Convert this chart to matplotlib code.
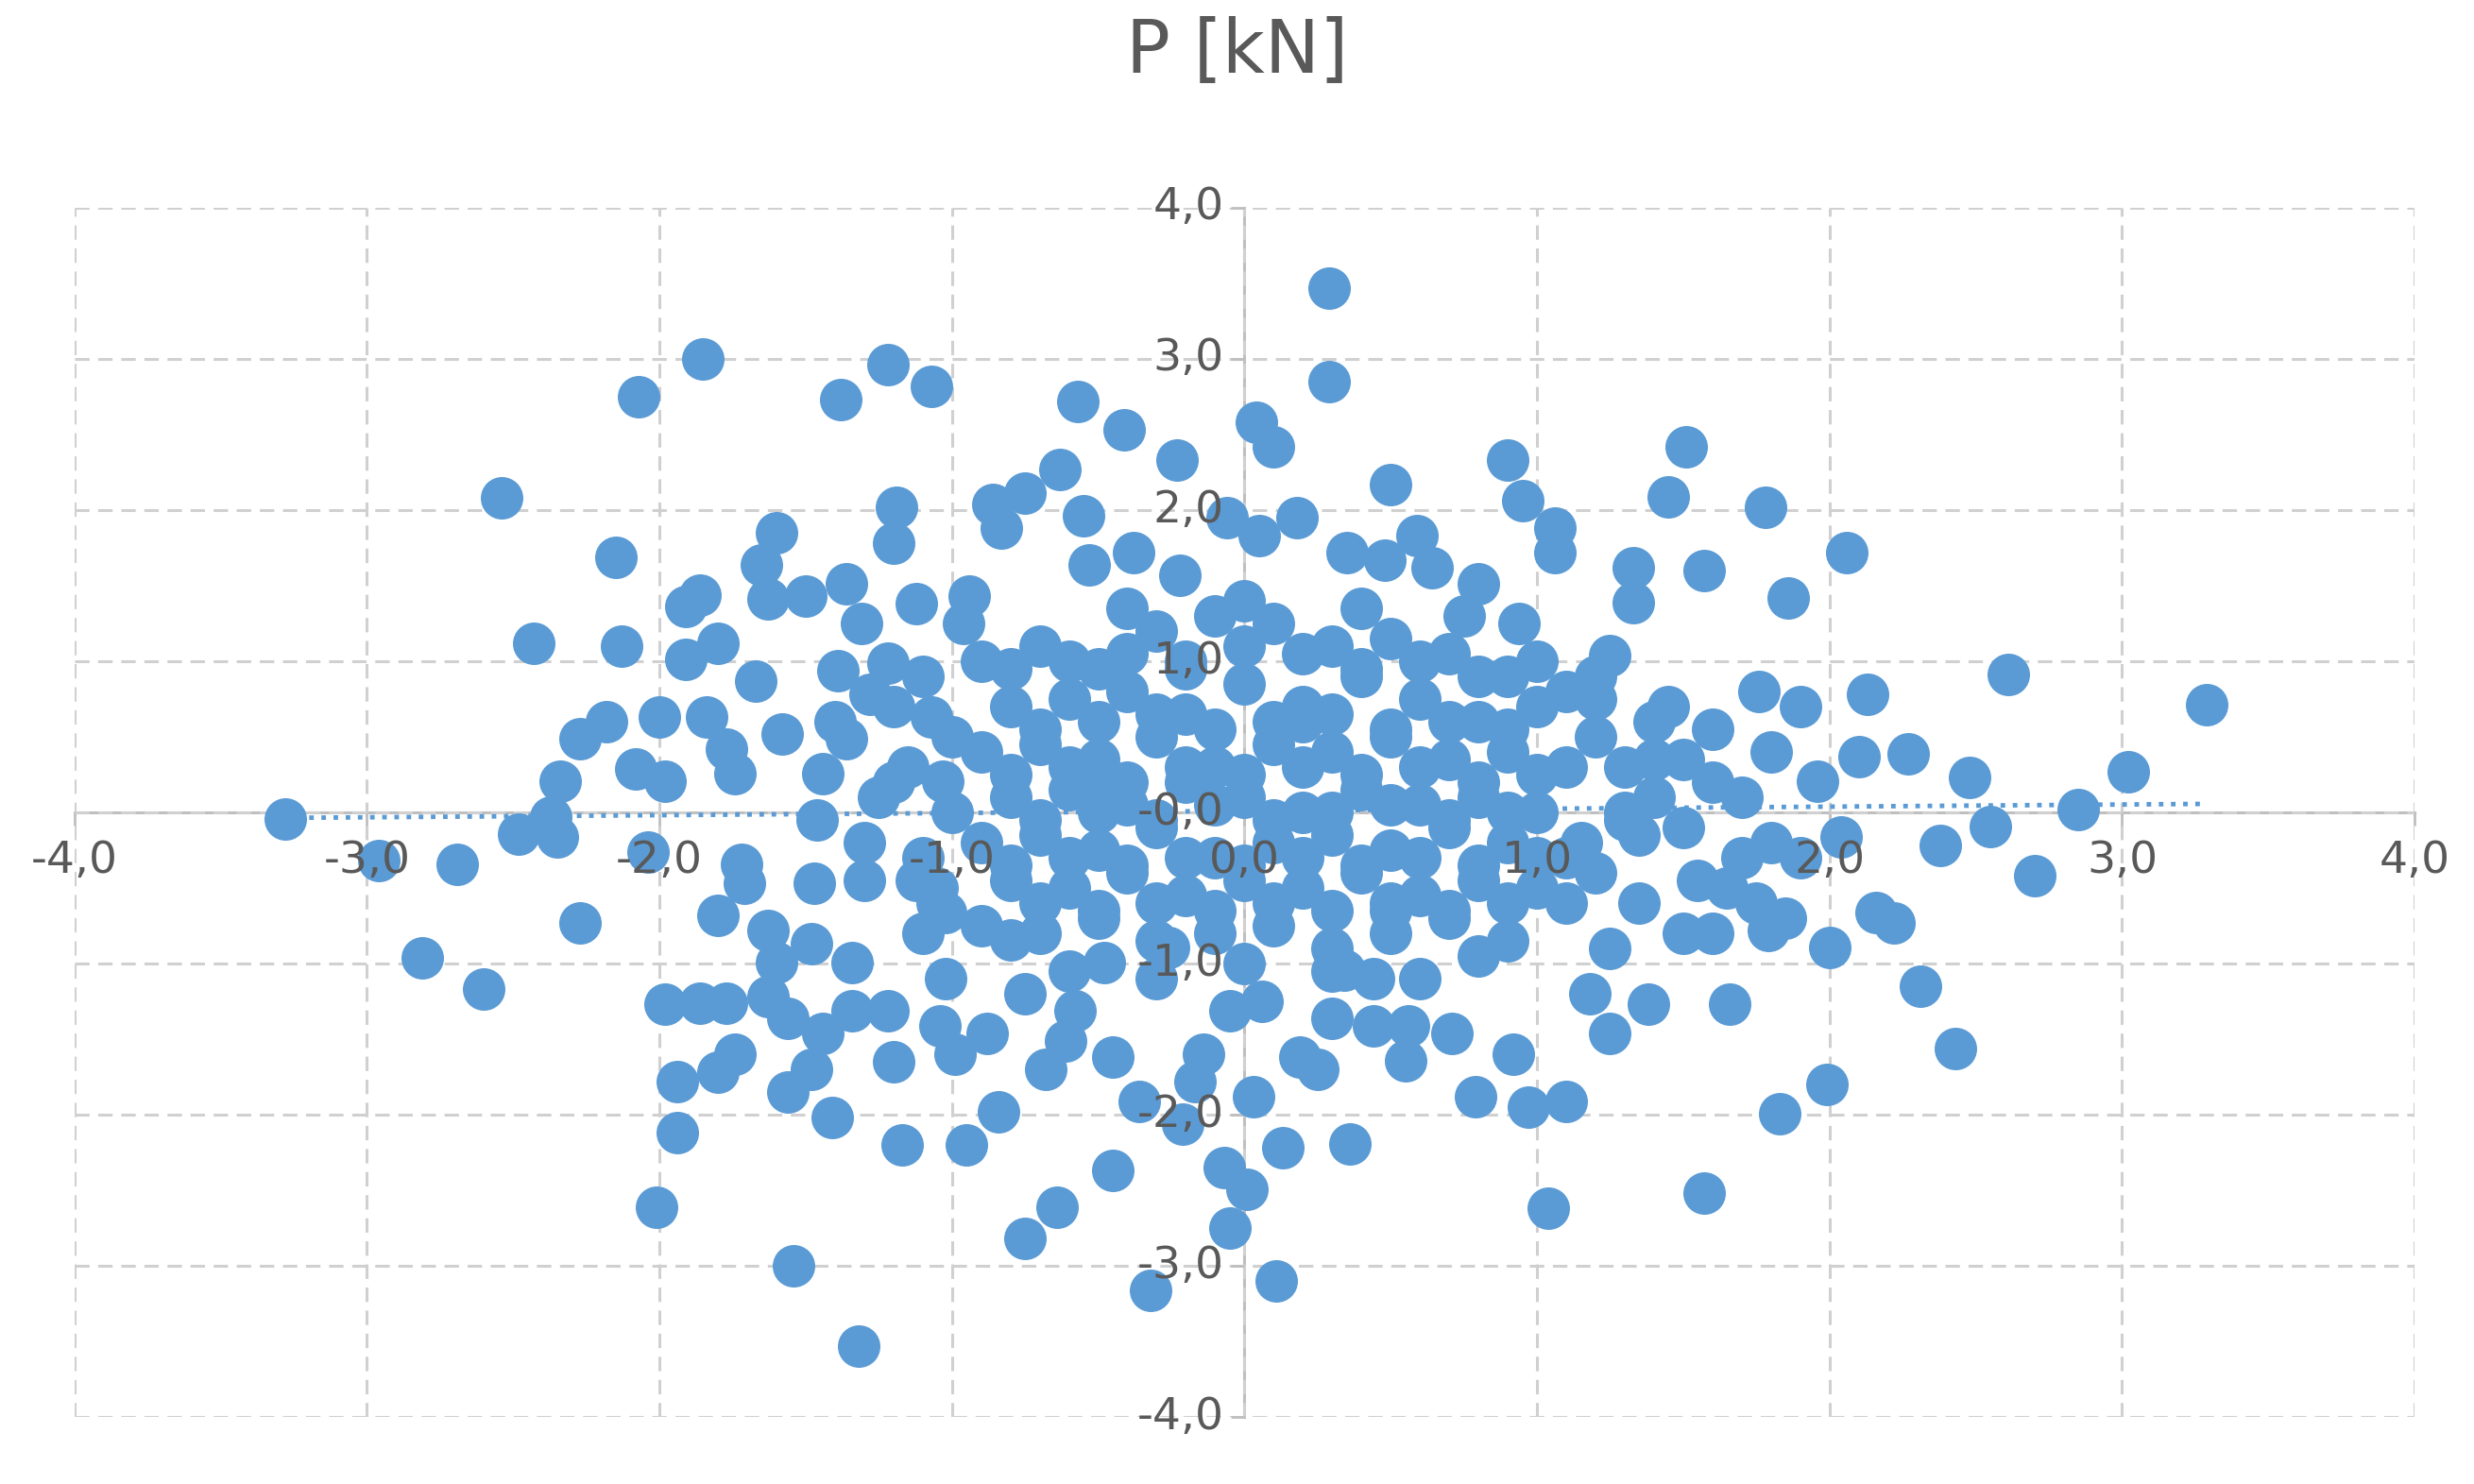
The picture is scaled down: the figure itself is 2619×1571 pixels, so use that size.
import matplotlib
matplotlib.use('AGG')
import matplotlib.pyplot as plt
import numpy as np

TITLE = "P [kN]"
TICKS = [-4, -3, -2, -1, 0, 1, 2, 3, 4]

# points (outer and mid-density parts)
x_outer = [-3.28, -2.96, -2.69, -2.81, -2.60, -2.54, -2.43, -2.27, -2.07, -2.15, -2.13, -2.04, -2.01,
           -1.94, -1.94, -1.85, -1.98, -1.54, -1.32, -1.38, -1.22, -1.07, -0.57, -0.41, 0.29, 0.29,
           0.04, 0.10, 0.90, 0.50, 0.95, 1.51, 1.45, 1.78, 2.06, 1.57, 1.86, 2.61, 3.29, 3.02, 2.85,
           2.70, 2.55, 2.48, 2.38, 2.31, 2.43, 1.99, 1.83, 2.00, 1.57, 1.04, 1.10, 0.97, 0.11, -0.32,
           -0.05, 0.01, -0.07, -0.75, -0.64, -0.45, -0.84, -0.95, -1.17, -1.41, -1.56, 0.36, 0.13,
           0.79, 1.66, 1.38, 2.16, 2.22, 2.13, 2.27, 2.10, 1.96, 1.90, 1.76, 2.04, 1.79, 1.33, 1.33,
           1.06, 1.06, 0.80, 0.94, 1.25, 0.56, 0.55, 0.71, 0.92, 1.25, 1.18]
y_outer = [-0.04, -0.32, -0.34, -0.96, -1.17, 2.08, 1.12, -0.73, 2.75, 1.69, 1.10, -0.26, -2.61,
           -1.78, -2.12, 3.00, -1.27, -3.00, -3.53, 2.73, 2.96, 2.82, 2.72, 2.53, 3.47, 2.85,
           2.58, 2.42, 2.33, 2.17, 2.06, 2.42, 2.09, 2.02, 1.72, 1.60, 1.42, 0.91, 0.71, 0.27, 0.02,
           -0.42, -0.09, 0.23, -0.22, -1.15, -1.56, -1.80, -1.99, -0.89, -2.52, -2.62, -1.91, -1.95,
           -3.10, -3.16, -2.75, -2.49, -2.35, -2.82, -2.61, -2.37, -1.98, -2.20, -2.20, -2.02, -1.85,
           -2.19, -2.22, -1.88, -1.27, -1.27, -0.66, -0.73, 0.78, 0.39, 0.37, 0.21, 0.70, 0.80, -0.16,
           -0.78, 1.62, 1.39, 1.88, 1.72, 1.51, 1.25, 1.04, -1.41, -1.64, -1.46, -1.60, -1.46, -1.20]

x_mid = [-2.35, -2.48, -2.37, -2.34, -2.27, -2.18, -2.08, -2.00, -1.98, -1.91, -1.86, -1.91, -1.80,
         -1.84, -1.77, -1.74, -1.67, -1.65, -1.60, -1.63, -1.50, -1.58, -1.80, -1.72, -1.71, -1.63,
         -1.60, -1.63, -1.77, -1.86, -1.74, -1.80, -1.56, -1.48, -1.44, -1.34, -1.22, -1.20, -1.34,
         -1.48, -1.47, -1.46, -1.44, -1.36, -1.36, -1.31, -1.20, -1.19, -1.12, -1.22, -1.39, -1.28,
         -1.07, -1.03, -0.94, -0.96, -0.86, -0.75, -0.83, -0.63, -0.55, -0.53, -0.38, -0.23, -0.22,
         -0.06, 0.18, 0.05, 0.35, 0.48, 0.59, 0.64, 0.75, -1.02, -1.12, -1.02, -1.04, -0.99, -0.88,
         -0.68, -0.61, -0.45, -0.36, -0.21, -0.17, -0.14, 0.03, -0.05, 0.06, 0.19, 0.25, 0.30, 0.44,
         0.44, 0.34, -0.26, -0.48, -0.58, -0.75, -0.80]
y_mid = [-0.16, -0.14, -0.03, 0.21, 0.49, 0.60, 0.29, 0.63, 0.21, 1.36, 1.44, 1.01, 1.12,
         0.63, 0.42, 0.26, 0.87, 1.64, 1.85, 1.41, 1.43, 0.52, -0.68, -0.34, -0.47, -0.78,
         -0.99, -1.22, -1.26, -1.26, -1.60, -1.72, -1.36, -1.70, -1.46, -1.31, -1.31, -1.65, -0.99,
         -0.87, -0.47, -0.05, 0.26, 0.49, 1.51, 1.25, 1.78, 2.02, 1.38, 0.99, 0.94, 0.78,
         0.63, 0.21, 1.43, 1.25, 2.04, 2.11, 1.88, 2.27, 1.96, 1.64, 1.72, 2.33, 1.57,
         1.95, 1.95, 1.83, 1.72, 1.67, 1.83, 1.62, 1.30, -0.66, -0.45, -1.10, -1.41, -1.60, -1.46,
         -1.70, -1.51, -1.62, -1.91, -2.06, -1.78, -1.60, -1.88, -1.31, -1.25, -1.62, -1.70, -1.36, -1.41,
         -1.10, -1.04, -0.89, -0.99, -1.31, -1.20, -0.84]

# dense centre and right-hand cluster
x_core = [-0.9, -0.7, -0.5, -0.3, -0.1, 0.1, 0.3, 0.5, 0.7, 0.9, 1.1,
          -0.8, -0.6, -0.4, -0.2, 0.0, 0.2, 0.4, 0.6, 0.8, 1.0,
          -0.9, -0.7, -0.5, -0.3, -0.1, 0.1, 0.3, 0.5, 0.7, 0.9, 1.1,
          -0.8, -0.6, -0.4, -0.2, 0.0, 0.2, 0.4, 0.6, 0.8, 1.0,
          -0.9, -0.7, -0.5, -0.3, -0.1, 0.1, 0.3, 0.5, 0.7, 0.9, 1.1,
          -0.8, -0.6, -0.4, -0.2, 0.0, 0.2, 0.4, 0.6, 0.8, 1.0,
          -0.9, -0.7, -0.5, -0.3, -0.1, 0.1, 0.3, 0.5, 0.7, 0.9,
          -0.6, -0.3, 0.0, 0.3, 0.6, -0.2, 0.2, 0.5, -0.5, 0.8,
          1.2, 1.3, 1.4, 1.5, 1.6, 1.7, 1.8, 1.2, 1.35, 1.5, 1.65, 1.8, 1.25, 1.45, 1.6, 1.75, 1.9,
          1.3, 1.5, 1.7, 1.2, 1.4, 1.6, 1.85, 1.15, 1.35, 1.55,
          -1.2, -1.0, -1.1, -1.3, -1.0, -1.15, -1.25, -1.05, -1.4, -1.1]
y_core = [1.0, 1.1, 0.95, 1.2, 1.3, 1.25, 1.1, 1.15, 1.05, 0.9, 0.8,
          0.7, 0.75, 0.8, 0.65, 0.85, 0.7, 0.9, 0.75, 0.6, 0.7,
          0.4, 0.45, 0.35, 0.5, 0.3, 0.45, 0.4, 0.5, 0.35, 0.4, 0.3,
          0.1, 0.15, 0.05, 0.2, 0.1, 0.0, 0.15, 0.05, 0.1, 0.0,
          -0.2, -0.15, -0.25, -0.1, -0.3, -0.2, -0.15, -0.25, -0.1, -0.2, -0.3,
          -0.45, -0.5, -0.4, -0.55, -0.45, -0.5, -0.4, -0.55, -0.45, -0.5,
          -0.75, -0.8, -0.7, -0.85, -0.8, -0.75, -0.9, -0.8, -0.7, -0.85,
          -1.05, -1.1, -1.0, -1.05, -1.1, 0.95, 0.6, -0.65, 0.2, -0.95,
          0.5, 0.3, 0.1, -0.1, 0.55, -0.3, -0.2, -0.4, -0.6, -0.8, -0.5, 0.4, -0.9, 0.7, 0.2, -0.6, -0.3,
          0.0, 0.35, 0.1, 0.9, 0.6, -0.8, -0.7, -0.2, -0.15, -0.45,
          0.2, 0.0, -0.3, -0.2, 0.5, 0.3, 0.1, -0.5, 0.6, 0.9]

# extra fill for the solid blob in the middle
x_fill = [-0.8, -0.6, -0.4, -0.2, 0.0, 0.2, 0.4, 0.6, 0.8, 1.0,
          -0.7, -0.5, -0.3, -0.1, 0.1, 0.3, 0.5, 0.7, 0.9,
          -0.8, -0.6, -0.4, -0.2, 0.0, 0.2, 0.4, 0.6, 0.8, 1.0,
          -0.7, -0.5, -0.3, -0.1, 0.1, 0.3, 0.5, 0.7, 0.9,
          -0.8, -0.6, -0.4, -0.2, 0.0, 0.2, 0.4, 0.6, 0.8, 1.0,
          -0.7, -0.5, -0.3, -0.1, 0.1, 0.3, 0.5, 0.7, 0.9,
          -0.4, 0.0, 0.4, -1.1, -1.2, 1.2, 1.3, 1.1, 1.4, -1.05, -1.3]
y_fill = [0.95, 1.0, 1.05, 1.0, 1.1, 1.05, 0.95, 1.0, 0.9, 1.0,
          0.55, 0.6, 0.65, 0.55, 0.6, 0.65, 0.55, 0.6, 0.55,
          0.25, 0.3, 0.2, 0.3, 0.25, 0.3, 0.25, 0.3, 0.2, 0.25,
          -0.05, 0.0, -0.05, 0.05, -0.05, 0.0, 0.05, -0.05, 0.0,
          -0.35, -0.3, -0.35, -0.3, -0.35, -0.3, -0.35, -0.3, -0.35, -0.3,
          -0.6, -0.65, -0.6, -0.65, -0.6, -0.65, -0.6, -0.65, -0.6,
          1.35, 1.4, 1.35, -0.8, 0.7, 0.75, -0.05, -0.6, 0.35, -0.6, -0.45]

x = np.array(x_outer + x_mid + x_core + x_fill)
y = np.array(y_outer + y_mid + y_core + y_fill)

blue = '#5B9BD5'
grey = '#595959'

fig = plt.figure(figsize=(26.19, 15.71), dpi=100)
ax = fig.add_axes([0.030, 0.045, 0.946, 0.815])
ax.set_xlim(-4, 4)
ax.set_ylim(-4, 4)

ax.scatter(x, y, s=1050, color=blue, zorder=3, linewidths=0)

# linear trendline (dotted)
k, b = np.polyfit(x, y, 1)
xs = np.array([x.min(), x.max()])
ax.plot(xs, k * xs + b, ':', color=blue, lw=3.5, zorder=2)

ax.set_xticks(TICKS)
ax.set_yticks(TICKS)
ax.grid(True, color='#D0D0D0', linestyle=(0, (5, 3)), lw=2.2, zorder=0)
for s in ['top', 'right']:
    ax.spines[s].set_visible(False)
ax.spines['left'].set_position('zero')
ax.spines['bottom'].set_position('zero')
for s in ['left', 'bottom']:
    ax.spines[s].set_color('#BFBFBF')
    ax.spines[s].set_linewidth(2.2)
    ax.spines[s].set_zorder(1)

ax.tick_params(colors='#BFBFBF', labelleft=False, labelbottom=False, length=10, width=2)

# tick labels as texts on top of the dots
fmt = lambda v: f"{v:.1f}".replace('.', ',')
for v in TICKS:
    ax.text(v, -0.18, fmt(v), ha='center', va='top', fontsize=34, color=grey, zorder=5)
    ax.text(-0.07, v, '-0,0' if v == 0 else fmt(v), ha='right', va='center',
            fontsize=34, color=grey, zorder=5)

fig.suptitle(TITLE, y=0.99, fontsize=56, color=grey)
fig.savefig('out.png')
